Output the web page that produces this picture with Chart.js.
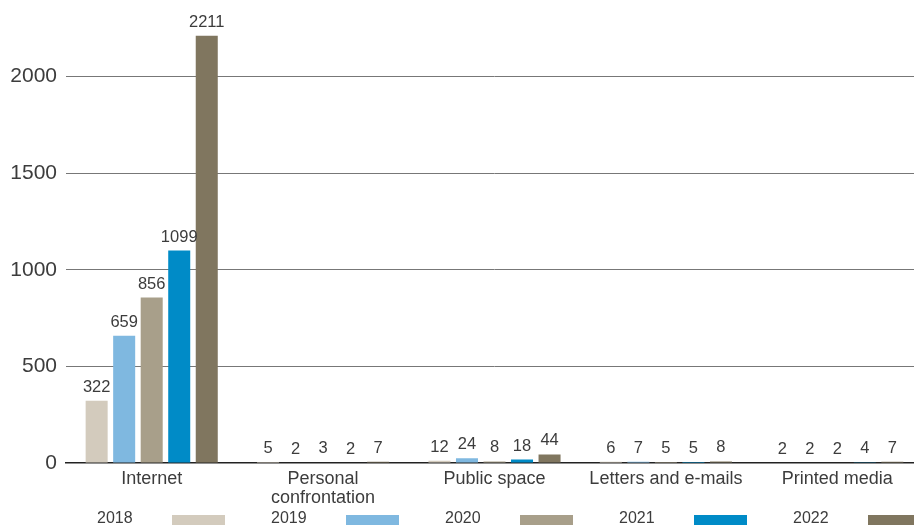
<!DOCTYPE html>
<html>
<head>
<meta charset="utf-8">
<script src="https://cdn.jsdelivr.net/npm/chart.js@4/dist/chart.umd.min.js"></script>
<style>
  html, body { margin: 0; padding: 0; background: #fff; overflow: hidden; }
  #wrap { width: 914px; height: 527px; overflow: hidden; }
</style>
</head>
<body>
<div id="wrap"><canvas id="chart" width="923" height="527"></canvas></div>
<script>
const categories = ["Internet", ["Personal", "confrontation"], "Public space", "Letters and e-mails", "Printed media"];
const years = ["2018", "2019", "2020", "2021", "2022"];
const values2018 = [322, 5, 12, 6, 2];
const values2019 = [659, 2, 24, 7, 2];
const values2020 = [856, 3, 8, 5, 2];
const values2021 = [1099, 2, 18, 5, 4];
const values2022 = [2211, 7, 44, 8, 7];
const yTicks = [0, 500, 1000, 1500, 2000];

const colors = ["#d3cbbd", "#7fb8e0", "#a89f8a", "#008bc7", "#80765f"];
const textColor = "#3c3c3c";
const fontFamily = "'Liberation Sans', Arial, sans-serif";

const series = [values2018, values2019, values2020, values2021, values2022];

// value labels above each bar
const valueLabels = {
  id: "valueLabels",
  afterDatasetsDraw(chart) {
    const ctx = chart.ctx;
    ctx.save();
    ctx.font = `16.5px ${fontFamily}`;
    ctx.fillStyle = textColor;
    ctx.textAlign = "center";
    ctx.textBaseline = "alphabetic";
    chart.data.datasets.forEach((ds, i) => {
      chart.getDatasetMeta(i).data.forEach((bar, j) => {
        ctx.fillText(String(ds.data[j]), bar.x, bar.y - 9);
      });
    });
    ctx.restore();
  }
};

// legend drawn as "label  [box]" along the bottom
const bottomLegend = {
  id: "bottomLegend",
  afterDraw(chart) {
    const ctx = chart.ctx;
    ctx.save();
    ctx.font = `16px ${fontFamily}`;
    ctx.textBaseline = "middle";
    ctx.textAlign = "left";
    chart.data.datasets.forEach((ds, i) => {
      const x0 = 97 + i * 174;
      ctx.fillStyle = textColor;
      ctx.fillText(ds.label, x0, 519);
      ctx.fillStyle = ds.backgroundColor;
      ctx.fillRect(x0 + 75, 515, 53, 10);
    });
    ctx.restore();
  }
};

new Chart(document.getElementById("chart"), {
  type: "bar",
  data: {
    labels: categories,
    datasets: years.map((y, i) => ({
      label: y,
      data: series[i],
      backgroundColor: colors[i],
      borderWidth: 0,
      categoryPercentage: 0.803,
      barPercentage: 0.8
    }))
  },
  options: {
    responsive: false,
    animation: false,
    layout: { padding: 0 },
    plugins: {
      legend: { display: false },
      tooltip: { enabled: false },
      title: { display: false }
    },
    scales: {
      x: {
        grid: { display: false },
        border: { display: true, color: "#222", width: 1.5 },
        ticks: {
          color: textColor,
          font: { family: fontFamily, size: 18, lineHeight: 1.07 },
          padding: -2,
          maxRotation: 0,
          autoSkip: false
        },
        afterFit(s) { s.height = 64; }
      },
      y: {
        min: 0,
        max: 2284,
        afterBuildTicks(s) { s.ticks = yTicks.map((v) => ({ value: v })); },
        grid: {
          color: (c) => (c.tick && c.tick.value === 0 ? "rgba(0,0,0,0)" : "#777"),
          lineWidth: 1,
          drawTicks: false
        },
        border: { display: false },
        ticks: {
          color: textColor,
          font: { family: fontFamily, size: 21 },
          padding: 9,
          callback: (v) => String(v)
        },
        afterFit(s) { s.width = 66; }
      }
    }
  },
  plugins: [valueLabels, bottomLegend]
});
</script>
</body>
</html>
